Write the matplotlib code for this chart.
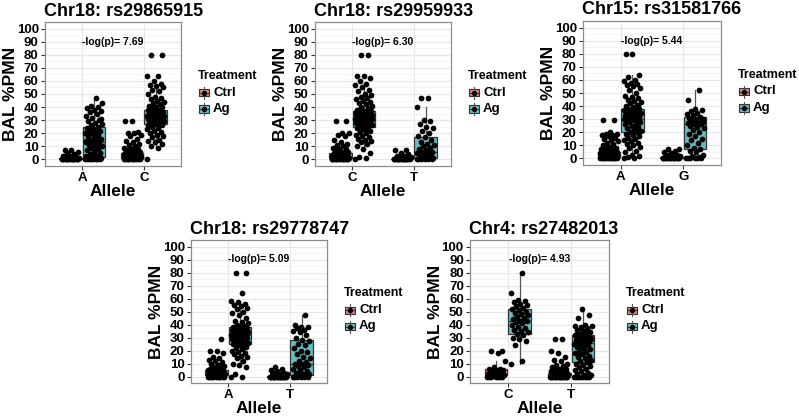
import matplotlib
matplotlib.use("Agg")
import matplotlib.pyplot as plt
from matplotlib.patches import Rectangle
from matplotlib.lines import Line2D

plt.rcParams['font.family'] = ['Liberation Sans', 'DejaVu Sans']
plt.rcParams['font.weight'] = 'bold'
plt.rcParams['axes.labelweight'] = 'bold'

# ---- data ----
titles = ["Chr18: rs29865915", "Chr18: rs29959933", "Chr15: rs31581766",
          "Chr18: rs29778747", "Chr4: rs27482013"]
alleles = [["A", "C"], ["C", "T"], ["A", "G"], ["A", "T"], ["C", "T"]]
logp = ["7.69", "6.30", "5.44", "5.09", "4.93"]
treatments = ["Ctrl", "Ag"]

# box stats per group: (whisker low, q1, median, q3, whisker high)
# order: allele1 Ctrl, allele1 Ag, allele2 Ctrl, allele2 Ag
p1_boxes = [(0, 0, 0.5, 1, 2), (0, 2, 13, 25, 47), (0, 1, 3, 5, 10), (9, 27, 33, 38, 55)]
p2_boxes = [(0, 1, 2, 5, 11), (8, 25, 32, 37, 55), (0, 0, 0, 0.5, 1), (0, 1, 6, 17, 40)]
p3_boxes = [(0, 1, 2.5, 5, 11), (0, 20, 30, 38, 64), (0, 0, 0.5, 1, 2), (0, 7, 26, 32, 52)]
p4_boxes = [(0, 1, 3, 5, 11), (7, 25, 32, 38, 57), (0, 0, 0, 0.5, 1), (0, 1, 10, 28, 47)]
p5_boxes = [(0, 1, 1, 6, 12), (10, 33, 43, 52, 80), (0, 1, 1, 3, 6), (0, 11, 26, 32, 52)]

# individual mice, BAL %PMN
p1_A_ctrl = [0, 0, 0, 0, 0, 0, 0, 0, 0, 0, 0, 0, 0, 0, 0, 0, 1, 1, 1, 1, 1, 1, 2, 2, 2, 3, 3, 4, 5, 6, 7, 7]
p1_A_ag = [0, 0, 0, 0, 0, 0, 0, 0, 1, 1, 1, 2, 2, 3, 3, 4, 5, 6, 7, 8, 9, 10, 10, 11, 12, 13, 13, 14, 15, 16,
           17, 18, 19, 20, 20, 21, 22, 22, 23, 24, 25, 26, 27, 28, 29, 30, 32, 33, 35, 36, 37, 38, 39, 40,
           41, 43, 47, 2, 5, 9, 14, 17, 24, 31]
p1_C_ctrl = [0, 0, 0, 0, 0, 0, 0, 0, 0, 0, 0, 1, 1, 1, 1, 1, 1, 1, 1, 2, 2, 2, 2, 2, 2, 2, 3, 3, 3, 3, 3, 3,
             4, 4, 4, 4, 4, 5, 5, 5, 5, 6, 6, 7, 7, 8, 8, 9, 10, 11, 12, 13, 14, 16, 18, 19, 20, 20, 21, 29, 29]
p1_C_ag = [0, 9, 10, 12, 13, 14, 15, 17, 18, 19, 20, 21, 22, 23, 24, 25, 26, 27, 27, 28, 28, 29, 29, 30, 30,
           30, 31, 31, 31, 32, 32, 32, 33, 33, 33, 33, 34, 34, 34, 35, 35, 35, 36, 36, 36, 37, 37, 38, 38, 39,
           40, 40, 41, 42, 43, 44, 45, 46, 47, 48, 50, 52, 53, 55, 56, 57, 58, 60, 64, 64, 80, 80, 30, 32, 34,
           36, 33, 29, 27, 31, 35, 26]

p2_C_ctrl = [0, 0, 0, 0, 0, 0, 0, 0, 0, 0, 0, 0, 0, 0, 1, 1, 1, 1, 1, 1, 1, 1, 1, 2, 2, 2, 2, 2, 2, 2, 3, 3,
             3, 3, 3, 4, 4, 4, 4, 5, 5, 5, 6, 6, 7, 8, 8, 9, 10, 11, 12, 13, 15, 18, 19, 20, 20, 29, 29]
p2_C_ag = [0, 1, 2, 5, 8, 10, 12, 13, 14, 15, 16, 17, 18, 19, 20, 21, 22, 23, 24, 25, 25, 26, 26, 27, 27, 28,
           28, 29, 29, 30, 30, 30, 31, 31, 31, 32, 32, 32, 32, 33, 33, 33, 34, 34, 34, 35, 35, 35, 36, 36, 37,
           37, 38, 39, 40, 41, 42, 43, 44, 45, 46, 47, 48, 49, 50, 52, 53, 55, 57, 58, 60, 62, 64, 64, 80, 80,
           31, 33, 30, 28, 34, 36, 24, 22]
p2_T_ctrl = [0, 0, 0, 0, 0, 0, 0, 0, 0, 0, 0, 0, 0, 0, 0, 0, 1, 1, 1, 1, 2, 2, 3, 3, 4, 5, 7, 7]
p2_T_ag = [0, 0, 0, 0, 0, 0, 1, 1, 1, 2, 2, 3, 4, 5, 5, 6, 6, 7, 8, 9, 10, 11, 12, 13, 15, 17, 18, 20, 22, 24,
           25, 27, 29, 30, 40, 47, 47]

p3_A_ctrl = [0, 0, 0, 0, 0, 0, 0, 0, 0, 0, 0, 0, 1, 1, 1, 1, 1, 1, 1, 1, 2, 2, 2, 2, 2, 2, 2, 2, 3, 3, 3, 3,
             3, 3, 4, 4, 4, 4, 4, 5, 5, 5, 5, 5, 6, 6, 6, 7, 7, 8, 8, 9, 10, 11, 12, 13, 14, 15, 16, 17, 18,
             18, 19, 19, 20, 29, 29]
p3_A_ag = [0, 0, 1, 2, 3, 5, 6, 8, 9, 10, 11, 12, 13, 14, 15, 16, 17, 18, 19, 20, 20, 21, 22, 23, 24, 25, 26,
           27, 28, 28, 29, 29, 30, 30, 30, 31, 31, 32, 32, 33, 33, 34, 34, 35, 35, 36, 36, 37, 37, 38, 38, 39,
           40, 41, 42, 43, 44, 45, 46, 47, 48, 50, 52, 54, 55, 56, 57, 58, 59, 60, 62, 64, 80, 80, 25, 30, 35,
           20, 18, 40]
p3_G_ctrl = [0, 0, 0, 0, 0, 0, 0, 0, 0, 0, 0, 0, 0, 0, 1, 1, 1, 1, 1, 1, 2, 2, 2, 3, 3, 4, 5, 6, 7, 7]
p3_G_ag = [0, 0, 0, 0, 0, 0, 1, 2, 3, 5, 6, 7, 8, 10, 12, 14, 15, 17, 19, 20, 22, 23, 24, 25, 26, 26, 27, 28,
           29, 30, 30, 31, 32, 33, 34, 35, 36, 37, 38, 45, 52, 27, 28, 29]

p4_A_ctrl = [0, 0, 0, 0, 0, 0, 0, 0, 0, 0, 0, 1, 1, 1, 1, 1, 1, 1, 2, 2, 2, 2, 2, 2, 3, 3, 3, 3, 3, 3, 4, 4,
             4, 4, 5, 5, 5, 5, 6, 6, 7, 7, 8, 9, 10, 11, 12, 13, 14, 15, 18, 20, 20, 29]
p4_A_ag = [0, 0, 2, 7, 9, 10, 12, 14, 15, 16, 17, 18, 19, 20, 21, 22, 23, 24, 25, 25, 26, 26, 27, 27, 28, 28,
           29, 29, 30, 30, 30, 31, 31, 31, 32, 32, 32, 32, 33, 33, 33, 34, 34, 34, 35, 35, 35, 36, 36, 37, 37,
           38, 38, 39, 40, 41, 42, 43, 45, 47, 49, 50, 52, 53, 54, 55, 56, 57, 58, 64, 80, 80, 33, 30, 28, 36]
p4_T_ctrl = [0, 0, 0, 0, 0, 0, 0, 0, 0, 0, 0, 0, 0, 0, 0, 0, 0, 1, 1, 1, 1, 2, 2, 3, 3, 4, 5, 6, 7]
p4_T_ag = [0, 0, 0, 0, 0, 0, 1, 1, 2, 2, 3, 4, 5, 6, 7, 8, 9, 10, 10, 11, 12, 14, 15, 17, 19, 20, 22, 24, 25,
           27, 28, 30, 32, 34, 35, 36, 37, 38, 38, 40, 47]

p5_C_ctrl = [0, 0, 0, 0, 0, 0, 0, 1, 1, 1, 1, 1, 2, 2, 3, 4, 5, 5, 6, 6, 7, 12, 18, 20, 20]
p5_C_ag = [10, 12, 24, 27, 29, 30, 32, 33, 34, 35, 36, 37, 38, 40, 41, 42, 43, 43, 44, 45, 46, 47, 48, 49, 50,
           51, 52, 53, 54, 55, 56, 57, 58, 59, 64, 80]
p5_T_ctrl = [0, 0, 0, 0, 0, 0, 0, 0, 0, 0, 0, 0, 0, 0, 0, 1, 1, 1, 1, 1, 1, 1, 1, 1, 2, 2, 2, 2, 2, 3, 3, 3,
             3, 4, 4, 5, 5, 6, 6, 7, 8, 9, 10, 12, 13, 15, 18, 20, 29, 29]
p5_T_ag = [0, 0, 0, 0, 0, 0, 0, 0, 1, 1, 2, 3, 4, 5, 6, 7, 8, 9, 10, 11, 12, 13, 14, 15, 16, 17, 18, 19, 20,
           21, 22, 23, 24, 25, 25, 26, 26, 27, 27, 28, 28, 29, 29, 30, 30, 31, 31, 32, 32, 33, 34, 35, 36, 37,
           38, 39, 40, 45, 47, 52, 26, 24, 22, 30, 28, 33, 35, 37, 39, 20, 18, 12]

boxes = [p1_boxes, p2_boxes, p3_boxes, p4_boxes, p5_boxes]
points = [[p1_A_ctrl, p1_A_ag, p1_C_ctrl, p1_C_ag],
          [p2_C_ctrl, p2_C_ag, p2_T_ctrl, p2_T_ag],
          [p3_A_ctrl, p3_A_ag, p3_G_ctrl, p3_G_ag],
          [p4_A_ctrl, p4_A_ag, p4_T_ctrl, p4_T_ag],
          [p5_C_ctrl, p5_C_ag, p5_T_ctrl, p5_T_ag]]

# ---- layout (pixels: left, top, right, bottom) ----
W, H = 799, 416
rects = [(45, 22, 181, 166), (315, 22, 451, 166), (583, 21, 721, 165),
         (191, 240, 327, 383), (470, 240, 609, 383)]
fill = {"Ctrl": "#D9837C", "Ag": "#66BDC2"}
edge = "#333333"

fig = plt.figure(figsize=(W / 100, H / 100), dpi=100)


def fx(x):
    return x / W


def fy(y):
    return 1 - y / H


for k in range(5):
    x0, y0, x1, y1 = rects[k]
    ax = fig.add_axes([fx(x0), fy(y1), (x1 - x0) / W, (y1 - y0) / H])
    ax.set_xlim(0.4, 2.6)
    ax.set_ylim(-5, 105)

    pos = [1 - 0.1875, 1 + 0.1875, 2 - 0.1875, 2 + 0.1875]
    stats = [dict(whislo=b[0], q1=b[1], med=b[2], q3=b[3], whishi=b[4]) for b in boxes[k]]
    bp = ax.bxp(stats, positions=pos, widths=0.36, showfliers=False, showcaps=False,
                patch_artist=True,
                boxprops=dict(edgecolor=edge, linewidth=0.9),
                medianprops=dict(color=edge, linewidth=1.0),
                whiskerprops=dict(color="#555555", linewidth=0.9),
                manage_ticks=False)
    for i, patch in enumerate(bp["boxes"]):
        patch.set_facecolor(fill[treatments[i % 2]])
        patch.set_zorder(2)

    # deterministic jitter
    for i, vals in enumerate(points[k]):
        xs = [pos[i] + ((j * 0.6180339) % 1 - 0.5) * 0.28 for j in range(len(vals))]
        ax.scatter(xs, vals, s=17, color="black", linewidths=0, zorder=3)

    ax.set_xticks([1, 2])
    ax.set_xticklabels(alleles[k])
    ax.set_yticks(range(0, 101, 10))
    ax.set_yticks(range(5, 100, 10), minor=True)
    ax.grid(which="major", color="#e6e6e6", linewidth=0.8, zorder=0)
    ax.grid(which="minor", axis="y", color="#f2f2f2", linewidth=0.5, zorder=0)
    ax.set_axisbelow(True)
    ax.tick_params(which="major", length=3, color="#333333", labelsize=9.5, pad=1.5)
    ax.tick_params(which="minor", length=0)
    for sp in ax.spines.values():
        sp.set_color("#8c8c8c")
        sp.set_linewidth(0.9)

    ax.set_ylabel("BAL %PMN", fontsize=12.5)
    ax.yaxis.set_label_coords(-27 / (x1 - x0), 0.5)
    ax.set_xlabel("Allele", fontsize=12.5)
    ax.xaxis.set_label_coords(0.5, -18 / (y1 - y0))
    ax.text(1.5, 90, "-log(p)= " + logp[k], ha="center", va="center", fontsize=7.5)

    fig.text(fx(x0 - 1), fy(y0 - 11), titles[k], fontsize=13, ha="left", va="center")

    # legend
    lx = x1 + 17
    my = (y0 + y1) / 2
    fig.text(fx(lx), fy(my - 18), "Treatment", fontsize=9, ha="left", va="center")
    for t, dy in zip(treatments, [-1.5, 15]):
        cy = my + dy
        fig.add_artist(Line2D([fx(lx + 6), fx(lx + 6)], [fy(cy - 6), fy(cy + 6)],
                              transform=fig.transFigure, color="#555555", linewidth=0.8))
        fig.add_artist(Rectangle((fx(lx + 1), fy(cy + 3.5)), 10 / W, 7 / H,
                                 transform=fig.transFigure, facecolor=fill[t],
                                 edgecolor=edge, linewidth=0.8))
        fig.add_artist(Line2D([fx(lx + 1), fx(lx + 11)], [fy(cy), fy(cy)],
                              transform=fig.transFigure, color=edge, linewidth=0.8))
        fig.add_artist(Line2D([fx(lx + 6)], [fy(cy)], transform=fig.transFigure,
                              marker="o", markersize=2.8, color="black", linestyle="none"))
        fig.text(fx(lx + 15), fy(cy), t, fontsize=9.5, ha="left", va="center")

fig.savefig("out.png", dpi=100)
